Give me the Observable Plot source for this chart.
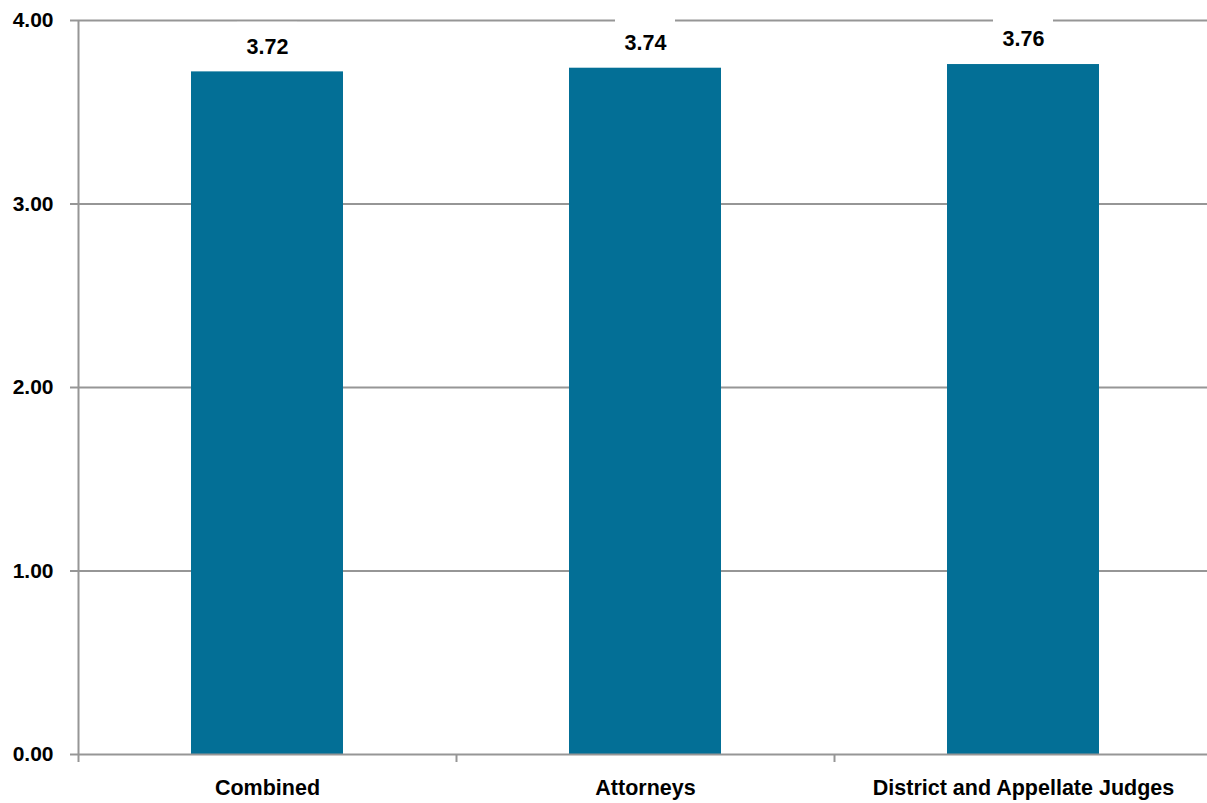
<!DOCTYPE html>
<html>
<head>
<meta charset="utf-8">
<script src="https://cdn.jsdelivr.net/npm/d3@7"></script>
<script src="https://cdn.jsdelivr.net/npm/@observablehq/plot@0.6"></script>
<style>
  html, body { margin: 0; padding: 0; background: white; }
</style>
</head>
<body>
<div id="chart"></div>
<script>
const categories = ["Combined", "Attorneys", "District and Appellate Judges"];
const values = [3.72, 3.74, 3.76];
const yTicks = [0, 1, 2, 3, 4];

const data = categories.map((c, i) => ({category: c, value: values[i]}));

const W = 1207, H = 803, ML = 78, MR = 0;
const X0 = 78, X1 = 1212;
const bandHalf = (X1 - X0) / categories.length / 2;
const gray = "#969696";
const font = "'Liberation Sans', Arial, sans-serif";

const chart = Plot.plot({
  width: W,
  height: H,
  marginTop: 20,
  marginBottom: 49,
  marginLeft: ML,
  marginRight: MR,
  style: {fontFamily: font, fontWeight: "bold", background: "white", color: "black"},
  x: {domain: categories, padding: 0, range: [X0, X1], axis: null, label: null},
  y: {domain: [0, 4], axis: null, label: null},
  marks: [
    Plot.ruleY(yTicks.filter(d => d > 0), {stroke: gray, strokeWidth: 2}),
    Plot.barY(data, {x: "category", y: "value", fill: "#036f96", insetLeft: bandHalf - 76, insetRight: bandHalf - 76}),
    Plot.barY(data, {x: "category", y1: "value", y2: "value", fill: "white",
      insetLeft: bandHalf - 30, insetRight: bandHalf - 30, insetTop: -49.5, insetBottom: 8}),
    Plot.text(data, {x: "category", y: "value", text: d => d.value.toFixed(2), dy: -25,
      lineAnchor: "middle", fontSize: 21.5, fontWeight: "bold", fill: "black"}),
    Plot.ruleY([0], {stroke: gray, strokeWidth: 2}),
    Plot.ruleX(categories.slice(0, 1), {x: d => d, dx: -bandHalf, stroke: gray, strokeWidth: 2}),
    Plot.axisY({ticks: yTicks, tickFormat: ".2f", tickSize: 8, tickPadding: 17, fontSize: 21,
      stroke: gray, strokeWidth: 2, fill: "black", fontWeight: "bold", label: null}),
    Plot.axisX({tickSize: 0, tickPadding: 25, fontSize: 21.5, fill: "black", fontWeight: "bold", label: null}),
    Plot.axisX({tickSize: 8, text: null, dx: -bandHalf, stroke: gray, strokeWidth: 2, label: null})
  ]
});

document.getElementById("chart").appendChild(chart);
</script>
</body>
</html>
